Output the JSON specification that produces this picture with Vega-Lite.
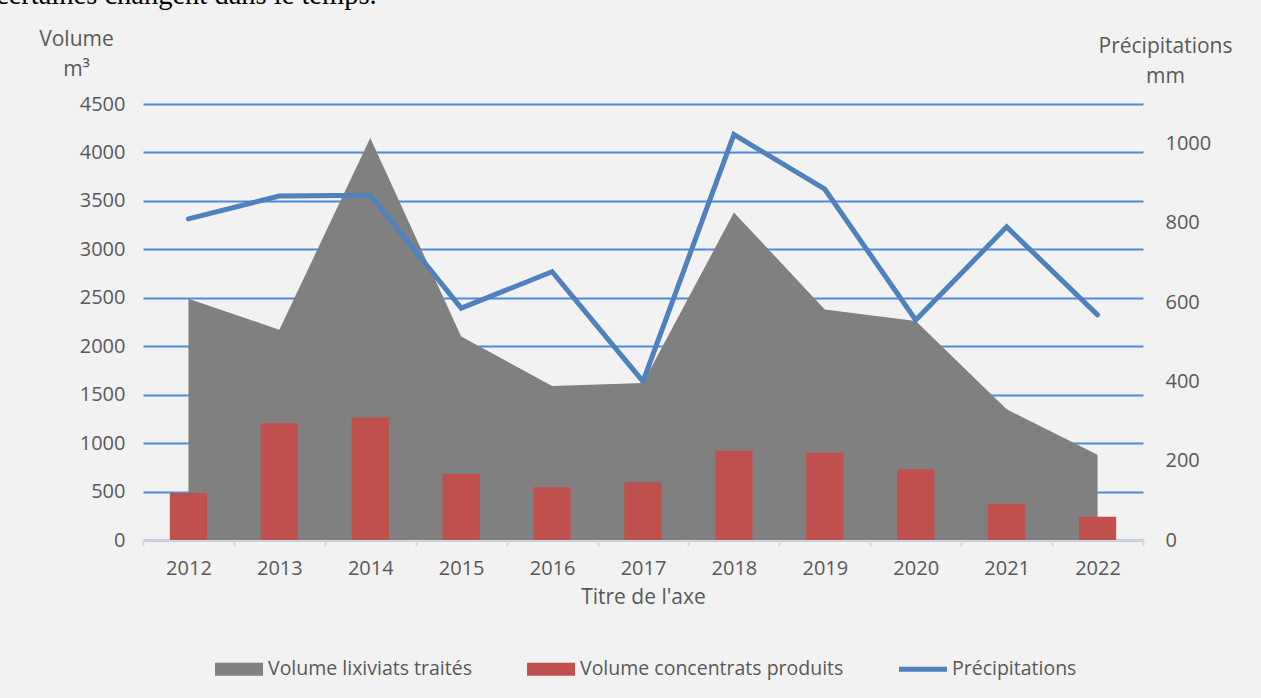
{
  "$schema": "https://vega.github.io/schema/vega-lite/v6.json",
  "width": 1000,
  "height": 436,
  "autosize": {"type": "none"},
  "padding": {"left": 143, "top": 104, "right": 118, "bottom": 158},
  "background": "#f2f2f2",
  "title": {
    "text": "certaines changent dans le temps.",
    "anchor": "start",
    "frame": "group",
    "font": "Liberation Serif",
    "fontSize": 28.5,
    "fontWeight": "normal",
    "color": "#000000",
    "baseline": "alphabetic",
    "offset": 0,
    "dx": -147,
    "dy": 4
  },
  "config": {
    "font": "Open Sans",
    "view": {"stroke": null},
    "axis": {
      "labelColor": "#595959",
      "titleColor": "#595959",
      "labelFontSize": 20,
      "titleFontSize": 21,
      "titleFontWeight": "normal",
      "labelFont": "Open Sans",
      "titleFont": "Open Sans"
    },
    "legend": {
      "labelColor": "#595959",
      "labelFont": "Open Sans",
      "labelFontSize": 19.5
    }
  },
  "data": {
    "values": [
      {"annee": "2012", "lixiviats": 2490, "concentrats": 485, "precipitations": 810},
      {"annee": "2013", "lixiviats": 2170, "concentrats": 1205, "precipitations": 868},
      {"annee": "2014", "lixiviats": 4150, "concentrats": 1265, "precipitations": 870},
      {"annee": "2015", "lixiviats": 2100, "concentrats": 680, "precipitations": 585},
      {"annee": "2016", "lixiviats": 1590, "concentrats": 545, "precipitations": 677},
      {"annee": "2017", "lixiviats": 1620, "concentrats": 595, "precipitations": 400},
      {"annee": "2018", "lixiviats": 3380, "concentrats": 922, "precipitations": 1023},
      {"annee": "2019", "lixiviats": 2380, "concentrats": 901, "precipitations": 885},
      {"annee": "2020", "lixiviats": 2260, "concentrats": 729, "precipitations": 555},
      {"annee": "2021", "lixiviats": 1350, "concentrats": 375, "precipitations": 790},
      {"annee": "2022", "lixiviats": 880, "concentrats": 241, "precipitations": 568}
    ]
  },
  "encoding": {
    "x": {
      "field": "annee",
      "type": "ordinal",
      "scale": {"type": "band", "paddingInner": 0, "paddingOuter": 0},
      "axis": {
        "title": "Titre de l'axe",
        "labelAngle": 0,
        "tickBand": "extent",
        "ticks": true,
        "tickColor": "#d9d9d9",
        "tickWidth": 2,
        "tickSize": 6,
        "domainColor": "#d9d9d9",
        "domainWidth": 2,
        "grid": false,
        "labelPadding": 12,
        "titlePadding": 8
      }
    }
  },
  "layer": [
    {
      "layer": [
        {
          "mark": {"type": "area", "interpolate": "linear"},
          "encoding": {
            "x": {"field": "annee", "type": "ordinal", "bandPosition": 0.5},
            "y": {
              "field": "lixiviats",
              "type": "quantitative",
              "scale": {"domain": [0, 4500], "nice": false},
              "axis": {
                "values": [0, 500, 1000, 1500, 2000, 2500, 3000, 3500, 4000, 4500],
                "format": "d",
                "title": ["Volume", "m³"],
                "titleAngle": 0,
                "titleAlign": "center",
                "titleBaseline": "alphabetic",
                "titleX": -67,
                "titleY": -59,
                "titleLineHeight": 30,
                "grid": true,
                "gridColor": "#4e8bd9",
                "gridWidth": 2,
                "domain": false,
                "ticks": false,
                "labelPadding": 18
              }
            },
            "color": {
              "datum": "Volume lixiviats traités",
              "type": "nominal",
              "scale": {
                "domain": ["Volume lixiviats traités", "Volume concentrats produits", "Précipitations"],
                "range": ["#808080", "#c0504d", "#4f81bd"]
              },
              "legend": {
                "title": null,
                "orient": "none",
                "direction": "horizontal",
                "legendX": 72,
                "legendY": 541,
                "padding": 0,
                "symbolSize": 2304,
                "labelOffset": 5,
                "columnPadding": 55,
                "labelLimit": 400,
                "encode": {
                  "symbols": {
                    "update": {
                      "shape": {"signal": "datum.value === 'Précipitations' ? 'M-1,-0.1H1V0.1H-1Z' : 'M-1,-0.27H1V0.27H-1Z'"},
                      "fill": {"scale": "color", "field": "value"},
                      "stroke": {"value": "transparent"},
                      "strokeWidth": {"value": 0},
                      "opacity": {"value": 1}
                    }
                  }
                }
              }
            }
          }
        },
        {
          "mark": {"type": "bar", "width": {"band": 0.41}},
          "encoding": {
            "y": {"field": "concentrats", "type": "quantitative"},
            "color": {"datum": "Volume concentrats produits", "type": "nominal"}
          }
        }
      ]
    },
    {
      "mark": {"type": "line", "strokeWidth": 5, "strokeCap": "round", "strokeJoin": "miter"},
      "encoding": {
        "x": {"field": "annee", "type": "ordinal", "bandPosition": 0.5},
        "y": {
          "field": "precipitations",
          "type": "quantitative",
          "scale": {"domain": [0, 1100], "nice": false},
          "axis": {
            "orient": "right",
            "values": [0, 200, 400, 600, 800, 1000],
            "format": "d",
            "title": ["Précipitations", "mm"],
            "titleAngle": 0,
            "titleAlign": "center",
            "titleBaseline": "alphabetic",
            "titleX": 22,
            "titleY": -52,
            "titleLineHeight": 30,
            "grid": false,
            "domain": false,
            "ticks": false,
            "labelPadding": 22
          }
        },
        "color": {"datum": "Précipitations", "type": "nominal"}
      }
    }
  ],
  "resolve": {"scale": {"y": "independent"}}
}
